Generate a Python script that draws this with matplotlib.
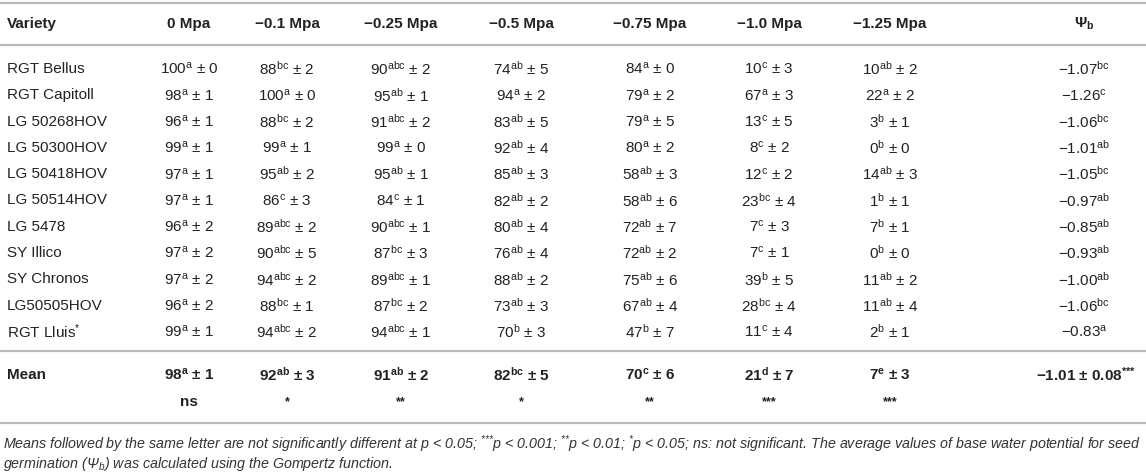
import matplotlib
matplotlib.use("Agg")
import matplotlib.pyplot as plt

plt.rcParams['font.family'] = ['Liberation Sans', 'DejaVu Sans']
plt.rcParams['mathtext.fontset'] = 'custom'
plt.rcParams['mathtext.rm'] = 'Liberation Sans'
plt.rcParams['mathtext.it'] = 'Liberation Sans:italic'
plt.rcParams['mathtext.bf'] = 'Liberation Sans:bold'
plt.rcParams['mathtext.default'] = 'regular'

headers = ["Variety", "0 Mpa", "\u22120.1 Mpa", "\u22120.25 Mpa", "\u22120.5 Mpa",
           "\u22120.75 Mpa", "\u22121.0 Mpa", "\u22121.25 Mpa", "\u03a8$_{b}$"]

varieties = ["RGT Bellus", "RGT Capitoll", "LG 50268HOV", "LG 50300HOV", "LG 50418HOV",
             "LG 50514HOV", "LG 5478", "SY Illico", "SY Chronos", "LG50505HOV", "RGT Lluis$^{*}$"]

# germination (%) per water potential: mean, letter, sd
g0 = [100, 98, 96, 99, 97, 97, 96, 97, 97, 96, 99]
g0_let = ["a"] * 11
g0_sd = [0, 1, 1, 1, 1, 1, 2, 2, 2, 2, 1]

g01 = [88, 100, 88, 99, 95, 86, 89, 90, 94, 88, 94]
g01_let = ["bc", "a", "bc", "a", "ab", "c", "abc", "abc", "abc", "bc", "abc"]
g01_sd = [2, 0, 2, 1, 2, 3, 2, 5, 2, 1, 2]

g025 = [90, 95, 91, 99, 95, 84, 90, 87, 89, 87, 94]
g025_let = ["abc", "ab", "abc", "a", "ab", "c", "abc", "bc", "abc", "bc", "abc"]
g025_sd = [2, 1, 2, 0, 1, 1, 1, 3, 1, 2, 1]

g05 = [74, 94, 83, 92, 85, 82, 80, 76, 88, 73, 70]
g05_let = ["ab", "a", "ab", "ab", "ab", "ab", "ab", "ab", "ab", "ab", "b"]
g05_sd = [5, 2, 5, 4, 3, 2, 4, 4, 2, 3, 3]

g075 = [84, 79, 79, 80, 58, 58, 72, 72, 75, 67, 47]
g075_let = ["a", "a", "a", "a", "ab", "ab", "ab", "ab", "ab", "ab", "b"]
g075_sd = [0, 2, 5, 2, 3, 6, 7, 2, 6, 4, 7]

g10 = [10, 67, 13, 8, 12, 23, 7, 7, 39, 28, 11]
g10_let = ["c", "a", "c", "c", "c", "bc", "c", "c", "b", "bc", "c"]
g10_sd = [3, 3, 5, 2, 2, 4, 3, 1, 5, 4, 4]

g125 = [10, 22, 3, 0, 14, 1, 7, 0, 11, 11, 2]
g125_let = ["ab", "a", "b", "b", "ab", "b", "b", "b", "ab", "ab", "b"]
g125_sd = [2, 2, 1, 0, 3, 1, 1, 0, 2, 4, 1]

psi_b = ["\u22121.07", "\u22121.26", "\u22121.06", "\u22121.01", "\u22121.05", "\u22120.97",
         "\u22120.85", "\u22120.93", "\u22121.00", "\u22121.06", "\u22120.83"]
psi_let = ["bc", "c", "bc", "ab", "bc", "ab", "ab", "ab", "ab", "bc", "a"]

mean_vals = [98, 92, 91, 82, 70, 21, 7]
mean_let = ["a", "ab", "ab", "bc", "c", "d", "e"]
mean_sd = [1, 3, 2, 5, 6, 7, 3]
mean_psi = "\u22121.01 \u00b1 0.08$^{{*}{*}{*}}$"
signif = ["ns", "*", "**", "*", "**", "***", "***"]

footnote = ["Means followed by the same letter are not significantly different at p < 0.05; "
            "$^{{*}{*}{*}}$p < 0.001; $^{{*}{*}}$p < 0.01; $^{*}$p < 0.05; ns: not significant. "
            "The average values of base water potential for seed",
            "germination (\u03a8$_{\\mathit{b}}$) was calculated using the Gompertz function."]

columns = [(g0, g0_let, g0_sd), (g01, g01_let, g01_sd), (g025, g025_let, g025_sd),
           (g05, g05_let, g05_sd), (g075, g075_let, g075_sd), (g10, g10_let, g10_sd),
           (g125, g125_let, g125_sd)]

# layout in pixels
W, H = 1146, 475
col_x = [189, 287, 401, 521, 650, 769, 890]
psi_x = 1084
y_head = 24
y_row0 = 69
dy = 26.3
y_mean = 375
y_sig = 402
lines_y = [3, 45, 351, 423]
txt = '#222222'
fs = 11

fig = plt.figure(figsize=(W / 100, H / 100), dpi=100)
ax = fig.add_axes([0, 0, 1, 1])
ax.set_xlim(0, W)
ax.set_ylim(H, 0)
ax.axis('off')

for y in lines_y:
    ax.plot([0, W], [y, y], color='#b9b9b9', lw=1.6, solid_capstyle='butt')

ax.text(7, y_head, headers[0], ha='left', va='center', fontsize=fs, fontweight='bold', color=txt)
for x, h in zip(col_x + [psi_x], headers[1:]):
    ax.text(x, y_head, h, ha='center', va='center', fontsize=fs, fontweight='bold', color=txt)

for i, name in enumerate(varieties):
    y = y_row0 + i * dy
    ax.text(7, y, name, ha='left', va='center', fontsize=fs, color=txt)
    for x, (vals, lets, sds) in zip(col_x, columns):
        s = f"{vals[i]}$^{{{lets[i]}}}$ \u00b1 {sds[i]}"
        ax.text(x, y, s, ha='center', va='center', fontsize=fs, color=txt)
    ax.text(psi_x, y, f"{psi_b[i]}$^{{{psi_let[i]}}}$", ha='center', va='center',
            fontsize=fs, color=txt)

ax.text(7, y_mean, "Mean", ha='left', va='center', fontsize=fs, fontweight='bold', color=txt)
for x, v, l, s in zip(col_x, mean_vals, mean_let, mean_sd):
    ax.text(x, y_mean, f"{v}$^{{{l}}}$ \u00b1 {s}", ha='center', va='center',
            fontsize=fs, fontweight='bold', color=txt)
ax.text(psi_x + 2, y_mean, mean_psi, ha='center', va='center', fontsize=fs,
        fontweight='bold', color=txt)
for x, s in zip(col_x, signif):
    ax.text(x, y_sig, s, ha='center', va='center', fontsize=fs if s == "ns" else 9,
            fontweight='bold', color=txt)

for j, line in enumerate(footnote):
    ax.text(3, 444 + j * 20, line, ha='left', va='center', fontsize=10.25,
            style='italic', color='#333333')

fig.savefig('out.png', dpi=100)
